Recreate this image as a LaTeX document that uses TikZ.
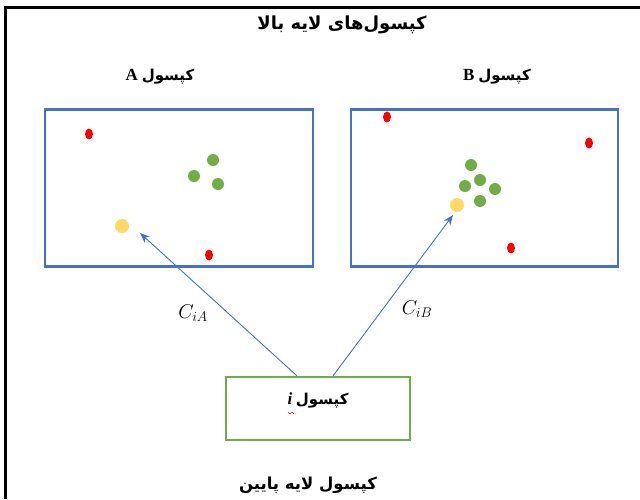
\documentclass[tikz,border=0pt]{standalone}
\usepackage{fix-cm}
\usepackage{fontspec}
\setmainfont{Liberation Serif}
\newfontfamily\arabicfont[Script=Arabic]{DejaVu Sans}
\TeXXeTstate=1
\usetikzlibrary{arrows.meta,shapes.geometric}
\definecolor{boxblue}{HTML}{4472C4}
\definecolor{boxgreen}{HTML}{70AD47}
\definecolor{dotred}{HTML}{FF0000}
\definecolor{dotgreen}{HTML}{70AD47}
\definecolor{dotyellow}{HTML}{FFD966}
\tikzset{
  frameline/.style={line width=3pt, black},
  bluebox/.style={draw=boxblue, line width=2.2pt},
  greenbox/.style={draw=boxgreen, line width=2.2pt},
  reddot/.style={ellipse, fill=dotred, minimum width=8pt, minimum height=11pt, inner sep=0pt},
  greendot/.style={circle, fill=dotgreen, minimum size=12pt, inner sep=0pt},
  yellowdot/.style={circle, fill=dotyellow, minimum size=14pt, inner sep=0pt},
  conn/.style={draw=boxblue, line width=0.9pt, -{Stealth[length=10pt,width=8pt]}},
  title/.style={font=\fontsize{18}{21}\selectfont\bfseries},
  bottitle/.style={font=\fontsize{16.5}{20}\selectfont\bfseries},
  label/.style={font=\fontsize{15}{18}\selectfont\bfseries},
  mathlabel/.style={font=\fontsize{20}{24}\selectfont}
}
\newcommand{\latinbig}[1]{{\fontsize{17}{20}\selectfont #1}}
\begin{document}
\begin{tikzpicture}[x=1pt,y=-1pt]
\useasboundingbox (0,0) rectangle (640,499);
\fill[white] (0,0) rectangle (640,499);
% frame
\draw[frameline] (5,499) -- (5,7) -- (640,7);
% title
\node[title] (ttl) at (342,25) {\arabicfont\beginR کپسول‌های لایه بالا\endR};
% boxes
\node[bluebox, minimum width=268pt, minimum height=157pt, inner sep=0pt] (boxA) at (179,188) {};
\node[bluebox, minimum width=267pt, minimum height=157pt, inner sep=0pt] (boxB) at (484.5,188) {};
\node[label] (labA) at (160,77) {\beginR{\arabicfont کپسول} \latinbig{A}\endR};
\node[label] (labB) at (497,77) {\beginR{\arabicfont کپسول} \latinbig{B}\endR};
% dots in A
\node[reddot] (rA1) at (89,134) {};
\node[reddot] (rA2) at (209,255) {};
\node[greendot] (gA1) at (213,160) {};
\node[greendot] (gA2) at (194,176) {};
\node[greendot] (gA3) at (218,184) {};
\node[yellowdot] (yA) at (122,226) {};
% dots in B
\node[reddot] (rB1) at (387,117) {};
\node[reddot] (rB2) at (589,143) {};
\node[reddot] (rB3) at (511,248) {};
\node[greendot] (gB1) at (471,165) {};
\node[greendot] (gB2) at (480,180) {};
\node[greendot] (gB3) at (465,186) {};
\node[greendot] (gB4) at (495,189) {};
\node[greendot] (gB5) at (480,201) {};
\node[yellowdot] (yB) at (457,205) {};
% lower capsule
\node[greenbox, minimum width=184pt, minimum height=63pt, inner sep=0pt] (boxI) at (318,408.5) {};
\node[label] (labI) at (318,400) {\beginR{\arabicfont کپسول} \latinbig{\textit{i}}\endR};
\draw[dotred, line width=0.6pt] (288,412) -- (290,414) -- (292,412) -- (294,414);
\node[bottitle] (bot) at (308,485) {\arabicfont\beginR کپسول لایه پایین\endR};
% arrows
\coordinate (tipA) at (140,233);
\coordinate (tipB) at (453,215);
\coordinate (startA) at ([xshift=-21pt]boxI.north);
\coordinate (startB) at ([xshift=15pt]boxI.north);
\draw[conn] (startA) -- (tipA);
\draw[conn] (startB) -- (tipB);
\node[mathlabel] (cA) at (193,313) {$C_{iA}$};
\node[mathlabel] (cB) at (417,309) {$C_{iB}$};
\end{tikzpicture}
\end{document}
